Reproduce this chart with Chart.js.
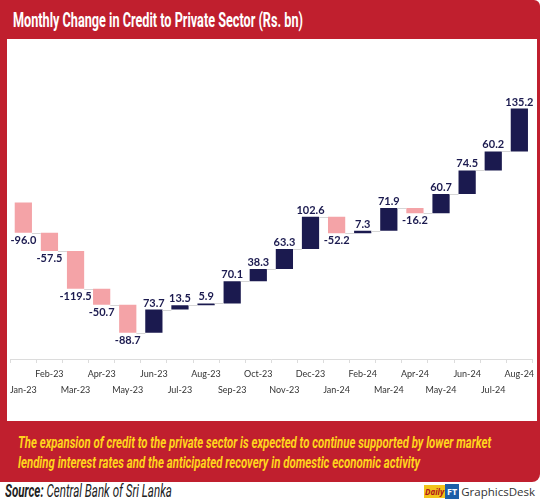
<!DOCTYPE html>
<html>
<head>
<meta charset="utf-8">
<script src="https://cdn.jsdelivr.net/npm/chart.js@4"></script>
<style>
  html, body { margin: 0; padding: 0; background: #fff; }
  body { width: 540px; height: 500px; position: relative; overflow: hidden; font-family: 'Roboto', sans-serif; }
  .frame { position: absolute; left: 0; top: 0; width: 540px; height: 482px; background: #c01f2e; border-radius: 0 6px 8px 0; }
  .fit { position: absolute; white-space: nowrap; transform-origin: 0 0; }
  .title { left: 13px; top: 8px; color: #fff; font-weight: bold; font-size: 20px; }
  .panel { position: absolute; left: 7px; top: 39px; width: 530px; height: 382px; background: #fff; }
  .note { left: 18px; color: #ffd51c; font-weight: bold; font-style: italic; font-size: 17px; }
  .source { left: 5px; top: 480px; font-size: 18px; font-style: italic; color: #222; }
  .source b { font-weight: bold; }
  .logo { position: absolute; right: 5px; top: 484px; display: flex; align-items: center; font-family: 'Open Sans', sans-serif; font-size: 11.5px; color: #333; }
  .logo .d { background: #f2c31a; color: #b0121c; font-style: italic; font-weight: bold; font-size: 8px; padding: 1px 1px; }
  .logo .f { background: #1d5fa8; color: #fff; font-weight: bold; font-size: 9px; padding: 1px 2px; margin-right: 2px; }
</style>
</head>
<body>
<div class="frame"></div>
<div class="fit title" data-w="290">Monthly Change in Credit to Private Sector (Rs. bn)</div>
<div class="panel"><canvas id="chart" width="530" height="382"></canvas></div>
<div class="fit note" style="top:432px" data-w="473">The expansion of credit to the private sector is expected to continue supported by lower market</div>
<div class="fit note" style="top:452px" data-w="402">lending interest rates and the anticipated recovery in domestic economic activity</div>
<div class="fit source" data-w="167"><b>Source:</b> Central Bank of Sri Lanka</div>
<div class="logo"><span class="d">Daily</span><span class="f">FT</span>GraphicsDesk</div>
<script>
const months = ['Jan-23', 'Feb-23', 'Mar-23', 'Apr-23', 'May-23', 'Jun-23', 'Jul-23', 'Aug-23', 'Sep-23', 'Oct-23',
  'Nov-23', 'Dec-23', 'Jan-24', 'Feb-24', 'Mar-24', 'Apr-24', 'May-24', 'Jun-24', 'Jul-24', 'Aug-24'];
const changes = [-96.0, -57.5, -119.5, -50.7, -88.7, 73.7, 13.5, 5.9, 70.1, 38.3,
  63.3, 102.6, -52.2, 7.3, 71.9, -16.2, 60.7, 74.5, 60.2, 135.2];

const NAVY = '#1b1a4f';
const PINK = '#f4a3a7';

// squeeze the condensed-looking texts to the reference widths
document.querySelectorAll('.fit').forEach((el) => {
  const target = Number(el.dataset.w);
  el.style.transform = `scaleX(${target / el.scrollWidth})`;
});

// waterfall: each bar floats from the previous running total
const totals = [];
const ranges = [];
let running = 0;
changes.forEach((v) => {
  ranges.push([running, running + v]);
  running += v;
  totals.push(running);
});

// staggered labels: even index on lower row, odd on upper row
const tickLabels = months.map((m, i) => (i % 2 === 0 ? ['', m] : [m, '']));

const waterfallExtras = {
  id: 'waterfallExtras',
  afterDatasetsDraw(chart) {
    const { ctx } = chart;
    const meta = chart.getDatasetMeta(0);
    const y = chart.scales.y;
    ctx.save();
    // connectors
    ctx.strokeStyle = '#d6d6d6';
    ctx.lineWidth = 1;
    for (let i = 0; i < meta.data.length - 1; i++) {
      const a = meta.data[i];
      const b = meta.data[i + 1];
      const py = Math.round(y.getPixelForValue(totals[i])) + 0.5;
      ctx.beginPath();
      ctx.moveTo(a.x + a.width / 2, py);
      ctx.lineTo(b.x - b.width / 2, py);
      ctx.stroke();
    }
    // value labels
    ctx.fillStyle = NAVY;
    ctx.font = 'bold 11px Lato, sans-serif';
    ctx.textAlign = 'center';
    meta.data.forEach((bar, i) => {
      const v = changes[i];
      const top = Math.min(bar.y, bar.base);
      const bottom = Math.max(bar.y, bar.base);
      if (v >= 0) {
        ctx.textBaseline = 'bottom';
        ctx.fillText(v.toFixed(1), bar.x, top - 1);
      } else {
        ctx.textBaseline = 'top';
        ctx.fillText(v.toFixed(1), bar.x, bottom + 2);
      }
    });
    ctx.restore();
  }
};

new Chart(document.getElementById('chart'), {
  type: 'bar',
  data: {
    labels: tickLabels,
    datasets: [{
      data: ranges,
      backgroundColor: changes.map((v) => (v >= 0 ? NAVY : PINK)),
      borderWidth: 0,
      categoryPercentage: 1,
      barPercentage: 0.66
    }]
  },
  options: {
    responsive: false,
    animation: false,
    layout: { padding: { top: 40, left: 0, right: 0, bottom: 0 } },
    plugins: { legend: { display: false }, tooltip: { enabled: false } },
    scales: {
      x: {
        afterFit: (axis) => { axis.height = 62; },
        grid: { drawOnChartArea: false, color: '#dcdcdc', tickLength: 4 },
        border: { color: '#dcdcdc' },
        ticks: {
          autoSkip: false,
          minRotation: 0,
          maxRotation: 0,
          padding: 3,
          color: '#333',
          font: { family: 'Lato, sans-serif', size: 9, lineHeight: 1.8 }
        }
      },
      y: {
        display: false,
        min: -495,
        max: 390
      }
    }
  },
  plugins: [waterfallExtras]
});
</script>
</body>
</html>
